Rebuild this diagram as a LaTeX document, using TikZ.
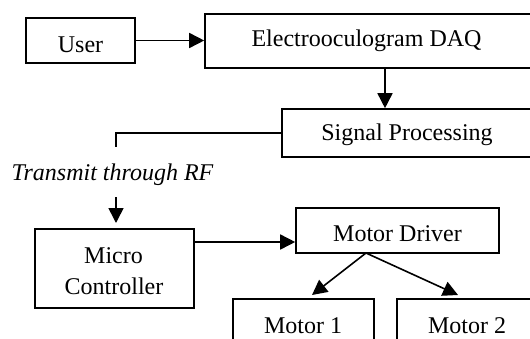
\documentclass[tikz,border=0pt]{standalone}
\usepackage{fontspec}
\setmainfont{Liberation Serif}
\usetikzlibrary{arrows.meta}
\begin{document}
\begin{tikzpicture}[x=1pt,y=-1pt,
  box/.style={draw, line width=1.6pt, inner sep=0pt, rectangle},
  txt/.style={anchor=base, inner sep=0pt, font=\fontsize{24}{31}\selectfont},
  arr/.style={line width=1.6pt, -{Triangle[length=15pt,width=15pt]}},
  ln/.style={line width=1.6pt}]
\useasboundingbox (0,0) rectangle (530,338);
\clip (0,0) rectangle (530,338);
% boxes
\node[box, minimum width=109pt, minimum height=45pt] (user) at (80.5,40.5) {};
\node[box, minimum width=327pt, minimum height=54pt] (daq) at (368.5,41) {};
\node[box, minimum width=252pt, minimum height=48pt] (sp) at (408,133) {};
\node[box, minimum width=159pt, minimum height=79pt] (mc) at (114.5,268.5) {};
\node[box, minimum width=203pt, minimum height=45pt] (md) at (397.5,230.5) {};
\node[box, minimum width=141pt, minimum height=71pt] (m1) at (303.5,334.5) {};
\node[box, minimum width=141pt, minimum height=71pt] (m2) at (467.5,334.5) {};
% texts
\node[txt] (usert) at (80.5,52) {User};
\node[txt] (daqt) at (366.5,46.7) {Electrooculogram DAQ};
\node[txt] (spt) at (407,140) {Signal Processing};
\node[txt] (rft) at (112.5,180) {\itshape Transmit through RF};
\node[txt] (mct1) at (113.5,263) {Micro};
\node[txt] (mct2) at (114,294) {Controller};
\node[txt] (mdt) at (397.5,241) {Motor Driver};
\node[txt] (m1t) at (303,333) {Motor 1};
\node[txt] (m2t) at (467,333) {Motor 2};
% helper coordinates
\coordinate (spcorner) at (116,133);
\coordinate (spend) at (116,147);
\coordinate (rfin) at (116,197);
\coordinate (rftip) at (116,223);
\coordinate (mcy) at (0,242);
\coordinate (apex) at (366,253);
\coordinate (tip1) at (312,295);
\coordinate (tip2) at (458,295);
% connectors
\draw[arr] (user.east) -- (daq.west |- user.east);
\draw[arr] (daq.south -| 385,0) -- (sp.north -| 385,0);
\draw[ln] (sp.west |- spcorner) -- (spcorner) -- (spend);
\draw[arr] (rfin) -- (rftip);
\draw[arr] (mc.east |- mcy) -- (md.west |- mcy);
\draw[arr] (apex) -- (tip1);
\draw[arr] (apex) -- (tip2);
\end{tikzpicture}
\end{document}
